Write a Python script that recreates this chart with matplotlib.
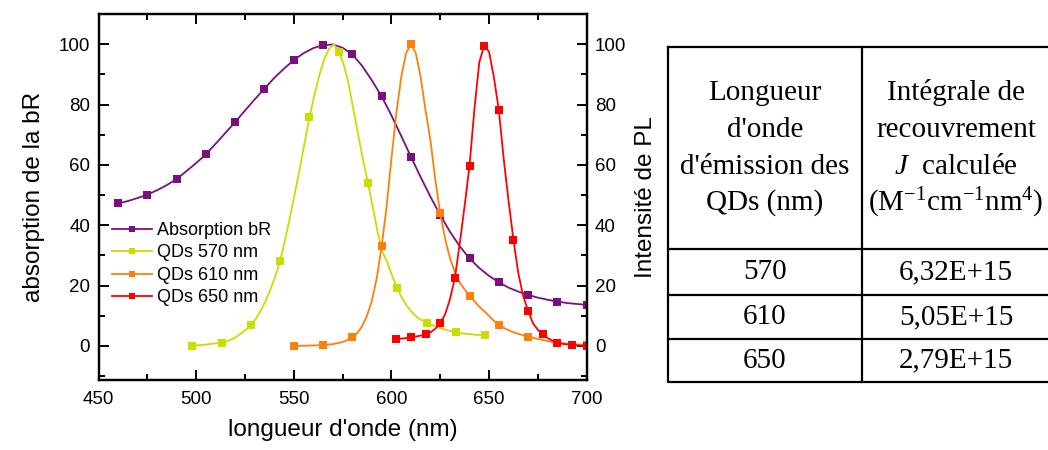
import numpy as np
import matplotlib
matplotlib.use("Agg")
from matplotlib import pyplot as plt
from matplotlib.ticker import MultipleLocator

plt.rcParams['font.family'] = ['Liberation Sans', 'DejaVu Sans']
plt.rcParams['mathtext.fontset'] = 'custom'
plt.rcParams['mathtext.rm'] = 'Liberation Serif'
plt.rcParams['mathtext.it'] = 'Liberation Serif:italic'

# bR absorption spectrum, 460-700 nm every 5 nm (normalised to 100)
abs_start, abs_step = 460, 5
abs_br = [47.2, 48.0, 49.0, 50.1, 51.6, 53.3, 55.3, 57.9, 60.6, 63.5,
          67.0, 70.6, 74.2, 78.0, 81.7, 85.3, 88.8, 91.9, 94.7, 97.0,
          98.7, 99.7, 99.9, 98.8, 96.6, 92.8, 88.0, 82.7, 76.4, 69.6,
          62.7, 55.9, 49.4, 43.4, 37.8, 33.0, 29.0, 25.8, 23.2, 21.1,
          19.3, 18.0, 16.9, 16.0, 15.3, 14.7, 14.2, 13.9, 13.6]

# PL spectra of the QDs, every 2.5 nm
qd570_start = 498
qd570 = [0.1, 0.2, 0.3, 0.5, 0.7, 0.9, 1.1, 1.5, 2.1, 3.0,
         4.1, 5.4, 6.8, 8.9, 11.6, 14.8, 18.6, 23.0, 28.2, 35.0,
         42.5, 50.5, 58.5, 67.2, 75.7, 83.0, 89.5, 94.8, 98.4, 100.0,
         97.4, 93.5, 87.0, 78.5, 70.0, 61.5, 53.9, 46.0, 37.5, 31.0,
         27.5, 23.0, 19.1, 15.8, 13.2, 11.2, 9.6, 8.5, 7.7, 7.0,
         6.4, 5.8, 5.3, 4.9, 4.5, 4.2, 4.0, 3.9, 3.7, 3.6, 3.5]

qd610_start = 550
qd610 = [0.0, 0.0, 0.05, 0.1, 0.15, 0.2, 0.3, 0.4, 0.6, 0.9,
         1.3, 2.0, 2.9, 4.2, 6.5, 10.0, 15.0, 22.5, 33.0, 46.0,
         62.0, 77.0, 89.0, 97.0, 100.0, 97.0, 89.0, 78.0, 68.0, 55.0,
         43.9, 35.5, 29.0, 24.5, 21.0, 18.7, 16.7, 14.8, 13.0, 11.5,
         9.9, 8.3, 7.0, 6.0, 5.2, 4.5, 4.0, 3.5, 3.1, 2.7,
         2.3, 2.0, 1.6, 1.3, 1.1, 0.9, 0.7, 0.6, 0.5, 0.4, 0.3]

qd650_start = 602.5
qd650 = [2.2, 2.4, 2.6, 2.8, 3.1, 3.4, 3.8, 4.5, 5.7, 7.5,
         10.5, 15.5, 22.5, 34.0, 46.5, 59.7, 78.5, 94.0, 99.5, 97.5,
         89.0, 78.1, 62.0, 48.0, 35.1, 24.0, 16.5, 11.6, 7.5, 5.3,
         3.9, 2.6, 1.7, 1.1, 0.7, 0.5, 0.3, 0.2, 0.1, 0.0]

pl_step = 2.5

labels = ['Absorption bR', 'QDs 570 nm', 'QDs 610 nm', 'QDs 650 nm']
colors = ['#7a1080', '#ccdb00', '#ff7f0e', '#ff0000']

# overlap integrals table
table_head_1 = ["Longueur", "d'onde", "d'émission des", "QDs (nm)"]
table_head_2 = ["Intégrale de", "recouvrement", "$J$  calculée",
                "(M$^{-1}$cm$^{-1}$nm$^{4}$)"]
table_qd = ['570', '610', '650']
table_j = ['6,32E+15', '5,05E+15', '2,79E+15']


def grid(start, step, values):
    return start + step * np.arange(len(values))


W, H = 1048, 450
fig = plt.figure(figsize=(W / 100, H / 100), dpi=100)

x0, x1, y0, y1 = 98.5, 586.7, 14, 380
ax = fig.add_axes([x0 / W, 1 - y1 / H, (x1 - x0) / W, (y1 - y0) / H])
ax2 = ax.twinx()

lw, ms = 1.3, 5.8
h1, = ax.plot(grid(abs_start, abs_step, abs_br), abs_br, color=colors[0],
              lw=lw, marker='s', ms=ms, mew=0, markevery=3, label=labels[0])
h2, = ax2.plot(grid(qd570_start, pl_step, qd570), qd570, color=colors[1],
               lw=lw, marker='s', ms=ms, mew=0, markevery=6, label=labels[1])
h3, = ax2.plot(grid(qd610_start, pl_step, qd610), qd610, color=colors[2],
               lw=lw, marker='s', ms=ms, mew=0, markevery=6, label=labels[2])
h4, = ax2.plot(grid(qd650_start, pl_step, qd650), qd650, color=colors[3],
               lw=lw, marker='s', ms=ms, mew=0, markevery=3, label=labels[3])

for a in (ax, ax2):
    a.set_xlim(450, 700)
    a.set_ylim(-11.3, 110)
    a.yaxis.set_major_locator(MultipleLocator(20))
    a.yaxis.set_minor_locator(MultipleLocator(10))
    for s in a.spines.values():
        s.set_linewidth(1.6)
ax.xaxis.set_major_locator(MultipleLocator(50))
ax.xaxis.set_minor_locator(MultipleLocator(25))
ax.tick_params(which='both', direction='in', top=True, width=1.4,
               labelsize=13.5, pad=6)
ax.tick_params(axis='x', pad=8)
ax.tick_params(which='major', length=7)
ax.tick_params(which='minor', length=4)
ax2.tick_params(which='both', direction='in', width=1.4, labelsize=13.5, pad=6)
ax2.tick_params(which='major', length=7)
ax2.tick_params(which='minor', length=4)

ax.set_xlabel("longueur d'onde (nm)", fontsize=17.5, labelpad=8)
ax.set_ylabel("absorption de la bR", fontsize=17.5, labelpad=10)
ax2.set_ylabel("Intensité de PL", fontsize=17.5, labelpad=6)

ax2.legend(handles=[h1, h2, h3, h4], loc='upper left',
           bbox_to_anchor=(112 / W, 1 - 222 / H), bbox_transform=fig.transFigure,
           frameon=False, fontsize=13, handlelength=2.2, handletextpad=0.3,
           labelspacing=0.3, borderpad=0, borderaxespad=0, markerscale=0.8)

# table drawn in pixel coordinates
tab = fig.add_axes([0, 0, 1, 1])
tab.set_xlim(0, W)
tab.set_ylim(H, 0)
tab.axis('off')

tl, tr, tt, tb, tc = 668, 1050, 47, 382, 862
rows = [249, 295, 339]
kw = dict(color='black', lw=1.6, clip_on=False, solid_capstyle='projecting')
tab.plot([tl, tr, tr, tl, tl], [tt, tt, tb, tb, tt], **kw)
tab.plot([tc, tc], [tt, tb], **kw)
for r in rows:
    tab.plot([tl, tr], [r, r], **kw)

serif = dict(family='Liberation Serif', fontsize=21, ha='center', va='center')
head_y = [93, 130, 167, 203]
for y, a, b in zip(head_y, table_head_1, table_head_2):
    tab.text((tl + tc) / 2, y, a, **serif)
    tab.text((tc + tr) / 2, y, b, **serif)
row_y = [272, 317, 360.5]
for y, a, b in zip(row_y, table_qd, table_j):
    tab.text((tl + tc) / 2, y, a, **serif)
    tab.text((tc + tr) / 2, y, b, **serif)

fig.savefig('out.png', dpi=100)
